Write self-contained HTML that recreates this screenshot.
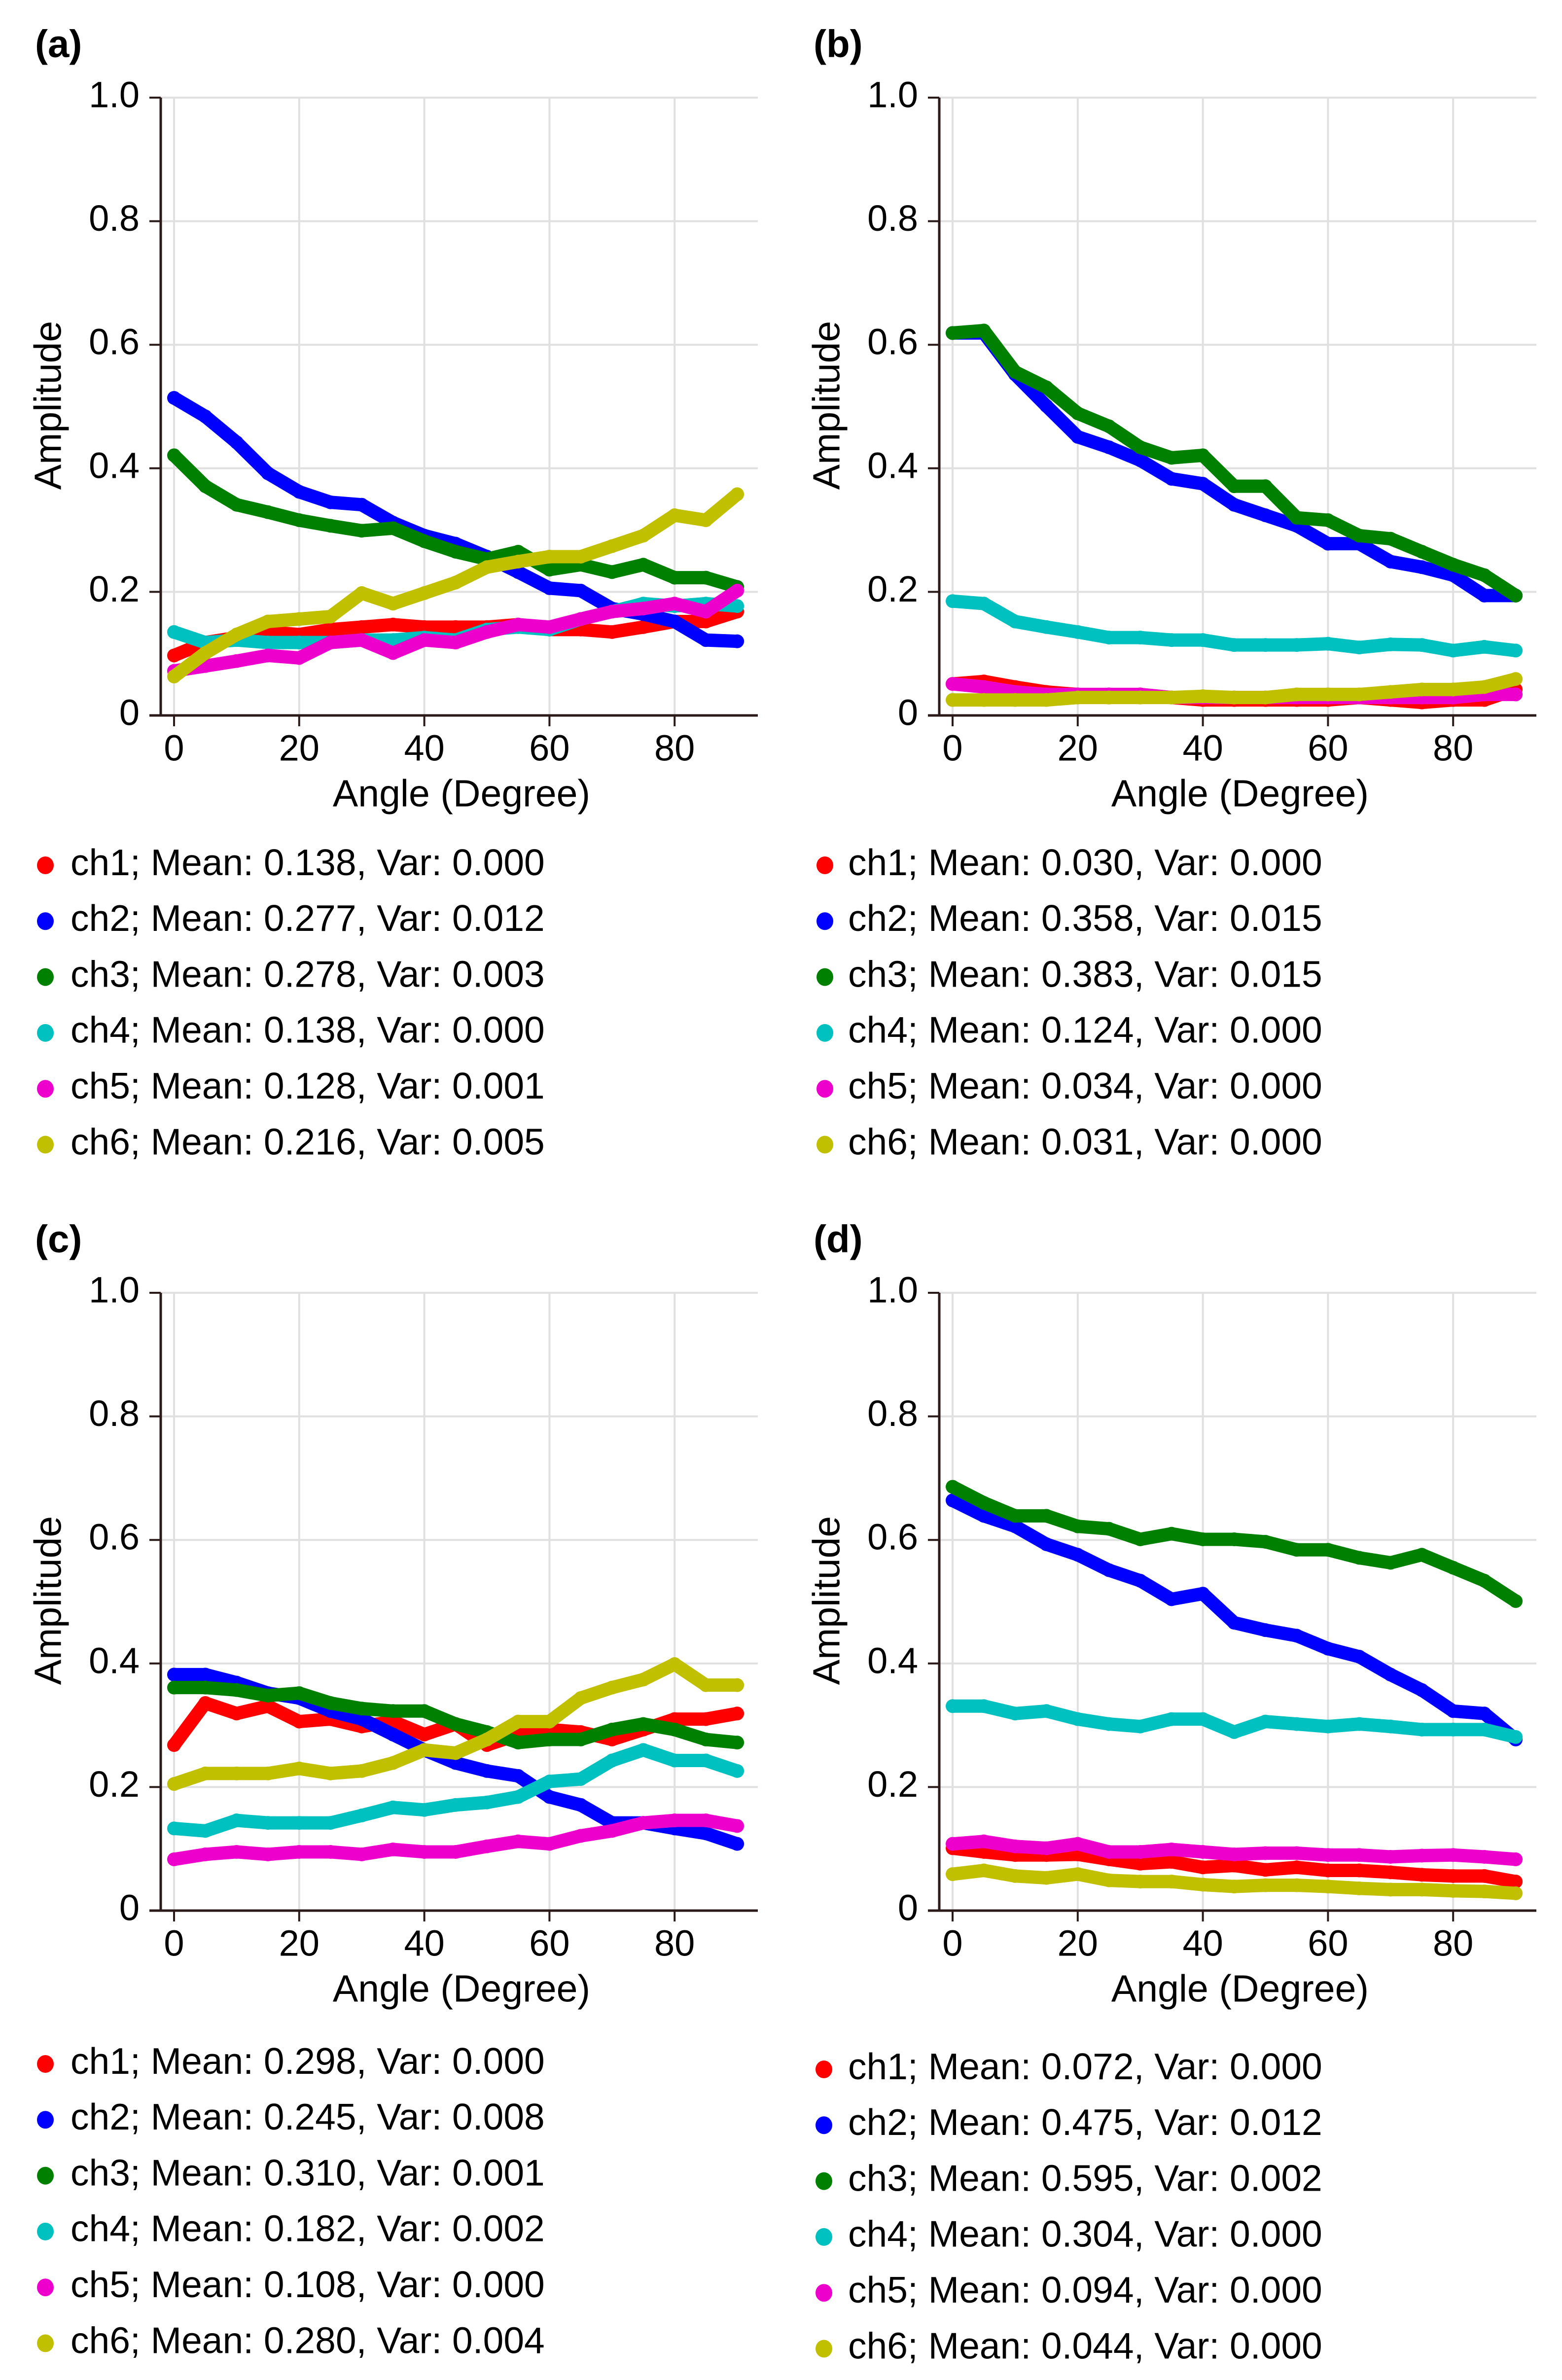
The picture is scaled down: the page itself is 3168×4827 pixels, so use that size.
<!DOCTYPE html>
<html><head><meta charset="utf-8">
<style>
html,body{margin:0;padding:0;background:#fff;}
svg{display:block;}
text{font-family:"Liberation Sans",sans-serif;fill:#000;}
</style></head>
<body>
<svg id="fig" width="3168" height="4827" viewBox="0 0 3168 4827" xmlns="http://www.w3.org/2000/svg"></svg>
<script>
const angles = [0,5,10,15,20,25,30,35,40,45,50,55,60,65,70,75,80,85,90];
const yTicks = [0,0.2,0.4,0.6,0.8,1.0];
const yTickLabels = ["0","0.2","0.4","0.6","0.8","1.0"];
const xTicks = [0,20,40,60,80];
const channelNames = ["ch1","ch2","ch3","ch4","ch5","ch6"];
const channelColors = ["#ff0000","#0000ff","#008000","#00c0c0","#ee00cc","#c0c000"];

const aCh1 = [.097,.118,.126,.135,.131,.139,.143,.147,.143,.143,.143,.147,.139,.139,.135,.143,.152,.152,.168];
const aCh2 = [.514,.484,.442,.392,.362,.345,.341,.312,.291,.278,.257,.232,.206,.202,.173,.164,.152,.122,.120];
const aCh3 = [.421,.371,.341,.329,.316,.307,.299,.303,.282,.265,.253,.265,.236,.244,.232,.244,.223,.223,.208];
const aCh4 = [.135,.118,.122,.118,.118,.118,.122,.122,.126,.122,.139,.143,.139,.156,.168,.181,.177,.181,.177];
const aCh5 = [.072,.080,.088,.097,.093,.118,.122,.101,.122,.118,.135,.147,.143,.156,.168,.173,.181,.168,.202];
const aCh6 = [.063,.101,.131,.152,.156,.160,.198,.181,.198,.215,.240,.249,.257,.257,.274,.291,.324,.316,.358];

const bCh1 = [.051,.055,.046,.038,.034,.029,.034,.029,.025,.025,.025,.025,.025,.029,.025,.021,.025,.025,.042];
const bCh2 = [.619,.619,.552,.501,.451,.434,.413,.383,.375,.341,.324,.307,.278,.278,.249,.240,.227,.194,.194];
const bCh3 = [.619,.623,.556,.531,.489,.468,.434,.417,.421,.371,.371,.320,.316,.291,.286,.265,.244,.227,.194];
const bCh4 = [.185,.181,.152,.143,.135,.126,.126,.122,.122,.114,.114,.114,.116,.110,.115,.114,.105,.111,.105];
const bCh5 = [.051,.046,.038,.034,.034,.034,.034,.029,.029,.029,.029,.029,.029,.029,.029,.029,.029,.034,.034];
const bCh6 = [.025,.025,.025,.025,.029,.029,.029,.029,.031,.029,.029,.034,.034,.034,.038,.042,.042,.046,.059];

const cCh1 = [.268,.336,.319,.331,.306,.310,.298,.306,.285,.302,.268,.285,.293,.289,.277,.293,.310,.310,.319];
const cCh2 = [.382,.382,.369,.352,.344,.323,.310,.285,.260,.239,.226,.218,.184,.171,.142,.142,.133,.125,.108];
const cCh3 = [.361,.361,.357,.348,.352,.336,.327,.323,.323,.302,.289,.272,.277,.277,.293,.302,.293,.277,.272];
const cCh4 = [.133,.129,.146,.142,.142,.142,.154,.167,.163,.171,.175,.184,.209,.213,.243,.260,.243,.243,.226];
const cCh5 = [.083,.091,.095,.091,.095,.095,.091,.099,.095,.095,.104,.112,.108,.121,.129,.142,.146,.146,.137];
const cCh6 = [.205,.222,.222,.222,.230,.222,.226,.239,.260,.255,.277,.306,.306,.344,.361,.374,.399,.365,.365];

const dCh1 = [.101,.095,.090,.090,.091,.083,.076,.079,.070,.073,.066,.070,.065,.065,.062,.058,.056,.056,.047];
const dCh2 = [.664,.639,.622,.593,.576,.551,.534,.504,.513,.466,.454,.445,.424,.411,.382,.357,.323,.319,.277];
const dCh3 = [.686,.660,.639,.639,.622,.618,.601,.610,.601,.601,.597,.584,.584,.571,.563,.576,.555,.534,.501];
const dCh4 = [.331,.331,.319,.323,.310,.302,.298,.310,.310,.289,.306,.302,.298,.302,.298,.293,.293,.293,.281];
const dCh5 = [.108,.112,.104,.101,.108,.095,.095,.099,.095,.091,.093,.093,.090,.090,.087,.089,.090,.087,.083];
const dCh6 = [.059,.065,.056,.053,.059,.049,.047,.047,.042,.039,.041,.041,.039,.036,.034,.034,.032,.031,.028];

const aLegend = ["ch1; Mean: 0.138, Var: 0.000","ch2; Mean: 0.277, Var: 0.012","ch3; Mean: 0.278, Var: 0.003","ch4; Mean: 0.138, Var: 0.000","ch5; Mean: 0.128, Var: 0.001","ch6; Mean: 0.216, Var: 0.005"];
const bLegend = ["ch1; Mean: 0.030, Var: 0.000","ch2; Mean: 0.358, Var: 0.015","ch3; Mean: 0.383, Var: 0.015","ch4; Mean: 0.124, Var: 0.000","ch5; Mean: 0.034, Var: 0.000","ch6; Mean: 0.031, Var: 0.000"];
const cLegend = ["ch1; Mean: 0.298, Var: 0.000","ch2; Mean: 0.245, Var: 0.008","ch3; Mean: 0.310, Var: 0.001","ch4; Mean: 0.182, Var: 0.002","ch5; Mean: 0.108, Var: 0.000","ch6; Mean: 0.280, Var: 0.004"];
const dLegend = ["ch1; Mean: 0.072, Var: 0.000","ch2; Mean: 0.475, Var: 0.012","ch3; Mean: 0.595, Var: 0.002","ch4; Mean: 0.304, Var: 0.000","ch5; Mean: 0.094, Var: 0.000","ch6; Mean: 0.044, Var: 0.000"];

const NS = "http://www.w3.org/2000/svg";
const svg = document.getElementById("fig");
function mk(tag, parent, attrs){ const e=document.createElementNS(NS,tag); for(const k in attrs) e.setAttribute(k,attrs[k]); parent.appendChild(e); return e; }

const panels = [
  {id:"a", ox:0, oy:0, series:[aCh1,aCh2,aCh3,aCh4,aCh5,aCh6], legend:aLegend, legY:1755, dotX:92, textX:143},
  {id:"b", ox:1579, oy:0, series:[bCh1,bCh2,bCh3,bCh4,bCh5,bCh6], legend:bLegend, legY:1755, dotX:1673, textX:1720},
  {id:"c", ox:0, oy:2424, series:[cCh1,cCh2,cCh3,cCh4,cCh5,cCh6], legend:cLegend, legY:4186, dotX:92, textX:143},
  {id:"d", ox:1579, oy:2424, series:[dCh1,dCh2,dCh3,dCh4,dCh5,dCh6], legend:dLegend, legY:4197, dotX:1671, textX:1720}
];

panels.forEach(p=>{
  const g = mk("g", svg, {transform:`translate(${p.ox},${p.oy})`});
  
  
  const X0=353, PX=12.69, YT=198, YB=1451;
  const xs = d => X0 + d*PX;
  const ys = v => YB - v*(YB-YT);
  const lbl = mk("text", g, {x:71, y:95, "font-size":78, "font-weight":"bold", "dominant-baseline":"middle"});
  lbl.textContent = "("+p.id+")";
  
  
  yTicks.forEach((v,i)=>{
    if(v>0){ const l=mk("line", g, {x1:326, x2:1537, y1:ys(v), y2:ys(v), stroke:"#e0e0e0", "stroke-width":4});
        }
    const t=mk("line", g, {x1:303, x2:326, y1:ys(v), y2:ys(v), stroke:"#2a1a1a", "stroke-width":4});
     
    const tl=mk("text", g, {x:283, y:ys(v), "font-size":74, "text-anchor":"end", "dominant-baseline":"middle"});
    tl.textContent = yTickLabels[i];
     
  });
  xTicks.forEach(d=>{
    const l=mk("line", g, {x1:xs(d), x2:xs(d), y1:YT, y2:YB, stroke:"#e0e0e0", "stroke-width":4});
     
    const t=mk("line", g, {x1:xs(d), x2:xs(d), y1:YB, y2:YB+22, stroke:"#2a1a1a", "stroke-width":4});
     
    const tl=mk("text", g, {x:xs(d), y:1523, "font-size":74, "text-anchor":"middle", "dominant-baseline":"middle"});
    tl.textContent = String(d);
     
  });
  const ya=mk("line", g, {x1:326, x2:326, y1:YT, y2:YB, stroke:"#2a1a1a", "stroke-width":5});
   
  const xa=mk("line", g, {x1:303, x2:1537, y1:YB, y2:YB, stroke:"#2a1a1a", "stroke-width":5});
   
  const xt=mk("text", g, {x:936, y:1615, "font-size":77, "text-anchor":"middle", "dominant-baseline":"middle"});
  xt.textContent="Angle (Degree)";
   
  const yt=mk("text", g, {x:0, y:0, "font-size":77, "text-anchor":"middle", "dominant-baseline":"middle", transform:"translate(103,822) rotate(-90)"});
  yt.textContent="Amplitude";
   
  p.series.forEach((vals,si)=>{
    const sg = mk("g", g, {});
    
    
    const pts = vals.map((v,i)=>xs(angles[i])+","+ys(v)).join(" ");
    const pl = mk("polyline", sg, {points:pts, fill:"none", stroke:channelColors[si], "stroke-width":27, "stroke-linejoin":"round", "stroke-linecap":"round"});
     
    vals.forEach((v,i)=>{
      const c = mk("circle", sg, {cx:xs(angles[i]), cy:ys(v), r:14, fill:channelColors[si]});
       
    });
  });
});
panels.forEach(p=>{
  const lg = mk("g", svg, {});
  
  
  p.legend.forEach((s,i)=>{
    const y = p.legY + i*113.3;
    const d = mk("ellipse", lg, {cx:p.dotX, cy:y, rx:17, ry:18, fill:channelColors[i]});
     
    const t = mk("text", lg, {x:p.textX, y:y, "font-size":75, "dominant-baseline":"middle"});
    t.textContent = s;
     
  });
});
</script>
</body></html>
